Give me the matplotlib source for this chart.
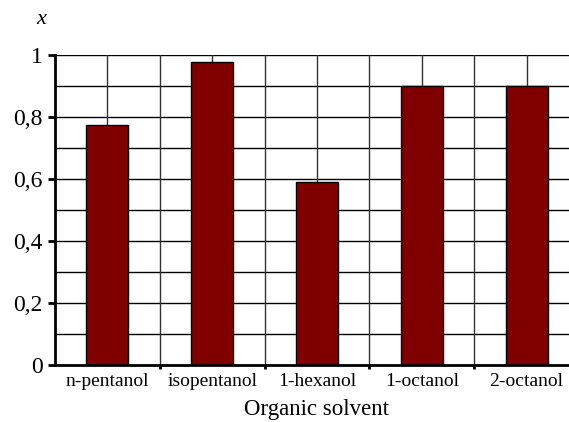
import matplotlib
matplotlib.use('Agg')
import matplotlib.pyplot as plt
import numpy as np

plt.rcParams['font.family'] = ['Liberation Serif', 'DejaVu Serif']

# данные
solvents = ['n-pentanol', 'isopentanol', '1-hexanol', '1-octanol', '2-octanol']
x_values = [0.773, 0.977, 0.59, 0.90, 0.90]
y_ticks = [0, 0.2, 0.4, 0.6, 0.8, 1.0]
y_tick_labels = ['0', '0,2', '0,4', '0,6', '0,8', '1']

fig = plt.figure(figsize=(5.69, 4.22), dpi=100)
ax = fig.add_axes([55/569, 57/422, 524/569, 310/422])

pos = np.arange(len(solvents))
ax.set_xlim(-0.5, len(solvents) - 0.5)
ax.set_ylim(0, 1)

# сетка
for y in np.arange(0.1, 1.01, 0.1):
    ax.axhline(y, color='black', lw=1.0, zorder=1)
for xv in np.arange(0, len(solvents) - 0.5, 0.5):
    ax.axvline(xv, color='#333333', lw=1.0, zorder=1)

ax.bar(pos, x_values, width=0.4, color='#800000', edgecolor='black', lw=1.0, zorder=2)

ax.set_yticks(y_ticks)
ax.set_yticklabels(y_tick_labels, fontsize=17)
ax.set_xticks(pos + 0.5)
ax.set_xticklabels([])
ax.set_xticks(pos, minor=True)
ax.set_xticklabels(solvents, minor=True, fontsize=14)
ax.tick_params(axis='x', which='minor', length=0, pad=6)
ax.tick_params(axis='x', which='major', length=3, width=2, direction='out')
ax.tick_params(axis='y', length=5, width=2, direction='out', pad=4)

for s in ['top', 'right']:
    ax.spines[s].set_visible(False)
ax.spines['left'].set_linewidth(2)
ax.spines['bottom'].set_linewidth(2)

ax.set_xlabel('Organic solvent', fontsize=16.5, labelpad=6)
fig.text(36/569, 1 - 20/422, 'x', fontsize=16, style='italic', ha='left', va='center')

fig.savefig('out.png', dpi=100)
